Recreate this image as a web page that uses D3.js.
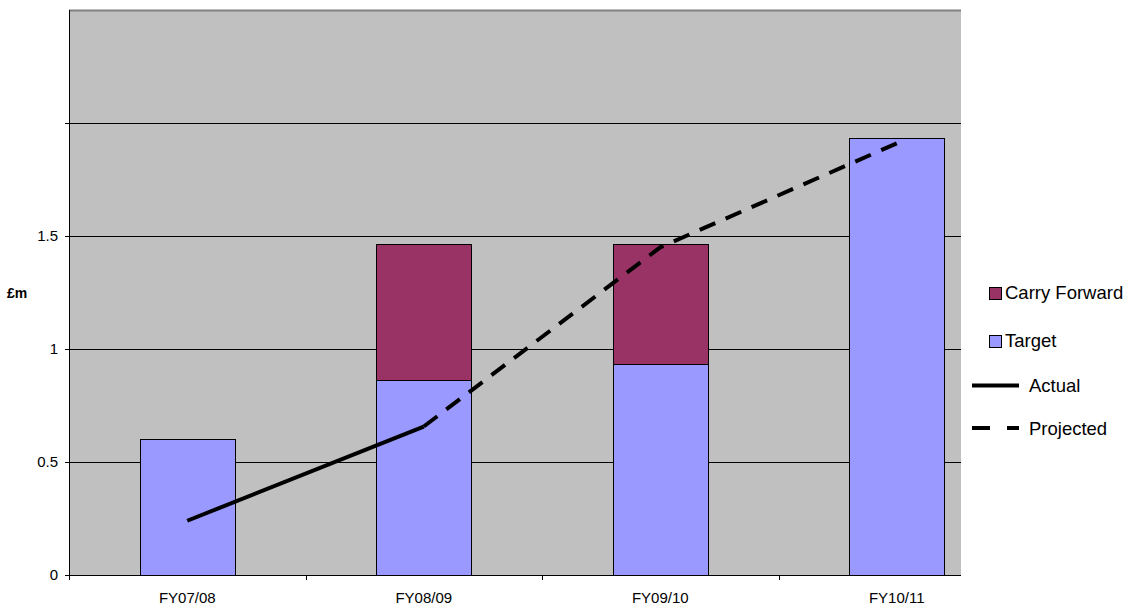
<!DOCTYPE html>
<html>
<head>
<meta charset="utf-8">
<script src="https://cdn.jsdelivr.net/npm/d3@7"></script>
<style>
  body { margin: 0; background: #fff; }
  svg text { font-family: "Liberation Sans", Arial, sans-serif; }
</style>
</head>
<body>
<div id="chart"></div>
<script>
// chart data
var categories = ["FY07/08", "FY08/09", "FY09/10", "FY10/11"];
var target = [0.6, 0.865, 0.935, 1.935];
var carryForward = [0, 0.6, 0.53, 0];
var actual = [0.24, 0.657, null, null];
var projected = [null, 0.657, 1.45, 1.91];
var yTicks = [0, 0.5, 1, 1.5, 2];
var yTickLabels = ["0", "0.5", "1", "1.5", "", ""];

var width = 1128, height = 605;
var plotLeft = 69, plotRight = 961, plotTop = 10, plotBottom = 575;

var svg = d3.select("#chart").append("svg")
    .attr("width", width)
    .attr("height", height);

// band range runs past the plot edge, as in the original
var x = d3.scaleBand().domain(categories)
    .range([plotLeft, 1015])
    .paddingInner(0.6)
    .paddingOuter(0.3);
var step = x.step();

var y = d3.scaleLinear().domain([0, 2.5]).range([plotBottom, plotTop]);

// plot background
svg.append("rect")
    .attr("x", plotLeft).attr("y", plotTop)
    .attr("width", plotRight - plotLeft).attr("height", plotBottom - plotTop)
    .attr("fill", "#c0c0c0");

svg.append("line")
    .attr("x1", plotLeft).attr("x2", plotRight)
    .attr("y1", plotTop + 0.5).attr("y2", plotTop + 0.5)
    .attr("stroke", "#808080").attr("stroke-width", 2);

// gridlines
svg.append("g").selectAll("line")
    .data(yTicks.filter(function(d) { return d > 0; }))
    .enter().append("line")
    .attr("x1", plotLeft).attr("x2", plotRight)
    .attr("y1", function(d) { return Math.round(y(d)) + 0.5; })
    .attr("y2", function(d) { return Math.round(y(d)) + 0.5; })
    .attr("stroke", "#000").attr("stroke-width", 1);

// stacked bars
var stack = categories.map(function(c, i) {
    return {cat: c, t: target[i], cf: carryForward[i]};
});

var bars = svg.append("g");
bars.selectAll(".target").data(stack).enter().append("rect")
    .attr("class", "target")
    .attr("x", function(d) { return Math.round(x(d.cat)) + 0.5; })
    .attr("width", Math.round(x.bandwidth()))
    .attr("y", function(d) { return Math.round(y(d.t)) + 0.5; })
    .attr("height", function(d) { return Math.round(y(0)) - Math.round(y(d.t)); })
    .attr("fill", "#9999ff").attr("stroke", "#000").attr("stroke-width", 1);

bars.selectAll(".cf").data(stack.filter(function(d) { return d.cf > 0; })).enter().append("rect")
    .attr("class", "cf")
    .attr("x", function(d) { return Math.round(x(d.cat)) + 0.5; })
    .attr("width", Math.round(x.bandwidth()))
    .attr("y", function(d) { return Math.round(y(d.t + d.cf)) + 0.5; })
    .attr("height", function(d) { return Math.round(y(d.t)) - Math.round(y(d.t + d.cf)); })
    .attr("fill", "#993366").attr("stroke", "#000").attr("stroke-width", 1);

// lines
var cx = function(i) { return x(categories[i]) + x.bandwidth() / 2; };
var line = d3.line()
    .defined(function(d) { return d != null; })
    .x(function(d, i) { return cx(i); })
    .y(function(d) { return y(d); });

svg.append("path").datum(actual)
    .attr("d", line)
    .attr("fill", "none").attr("stroke", "#000").attr("stroke-width", 4);

var proj = svg.append("path").datum(projected)
    .attr("d", line)
    .attr("fill", "none").attr("stroke", "#000").attr("stroke-width", 4);

// stretch the gaps a bit so the dashes finish on the last point
var L = proj.node().getTotalLength();
var nDash = Math.round((L + 11) / 28);
var gap = (L - 17 * nDash) / (nDash - 1);
proj.attr("stroke-dasharray", "17," + gap.toFixed(2));

// y axis
svg.append("line")
    .attr("x1", plotLeft + 0.5).attr("x2", plotLeft + 0.5)
    .attr("y1", plotTop).attr("y2", plotBottom)
    .attr("stroke", "#000");

var yt = svg.append("g");
yt.selectAll("line").data(yTicks).enter().append("line")
    .attr("x1", plotLeft - 4).attr("x2", plotLeft)
    .attr("y1", function(d) { return Math.round(y(d)) + 0.5; })
    .attr("y2", function(d) { return Math.round(y(d)) + 0.5; })
    .attr("stroke", "#000");
yt.selectAll("text").data(yTicks).enter().append("text")
    .attr("x", plotLeft - 11)
    .attr("y", function(d) { return y(d) + 5; })
    .attr("text-anchor", "end")
    .attr("font-size", 15)
    .text(function(d, i) { return yTickLabels[i]; });

svg.append("text")
    .attr("x", 7).attr("y", 298)
    .attr("font-size", 14).attr("font-weight", "bold")
    .text("£m");

// x axis
svg.append("line")
    .attr("x1", plotLeft).attr("x2", plotRight)
    .attr("y1", plotBottom + 0.5).attr("y2", plotBottom + 0.5)
    .attr("stroke", "#000");

var xt = svg.append("g");
xt.selectAll("line").data(d3.range(categories.length)).enter().append("line")
    .attr("x1", function(i) { return Math.round(plotLeft + i * step) + 0.5; })
    .attr("x2", function(i) { return Math.round(plotLeft + i * step) + 0.5; })
    .attr("y1", plotBottom).attr("y2", plotBottom + 5)
    .attr("stroke", "#000");
xt.selectAll("text").data(categories).enter().append("text")
    .attr("x", function(d) { return x(d) + x.bandwidth() / 2; })
    .attr("y", 603)
    .attr("text-anchor", "middle")
    .attr("font-size", 15)
    .text(function(d) { return d; });

// legend
var legend = svg.append("g");
var boxes = [{name: "Carry Forward", color: "#993366", y: 287},
             {name: "Target", color: "#9999ff", y: 335}];
legend.selectAll("rect").data(boxes).enter().append("rect")
    .attr("x", 989.5).attr("y", function(d) { return d.y + 0.5; })
    .attr("width", 12).attr("height", 12)
    .attr("fill", function(d) { return d.color; })
    .attr("stroke", "#000");
legend.selectAll(".boxlabel").data(boxes).enter().append("text")
    .attr("class", "boxlabel")
    .attr("x", 1005).attr("y", function(d) { return d.y + 12; })
    .attr("font-size", 18.5)
    .text(function(d) { return d.name; });

var lines = [{name: "Actual", dash: null, y: 385.5},
             {name: "Projected", dash: "18,17", y: 428}];
legend.selectAll("line").data(lines).enter().append("line")
    .attr("x1", 972).attr("x2", 1019)
    .attr("y1", function(d) { return d.y; })
    .attr("y2", function(d) { return d.y; })
    .attr("stroke", "#000").attr("stroke-width", 4)
    .attr("stroke-dasharray", function(d) { return d.dash; });
legend.selectAll(".linelabel").data(lines).enter().append("text")
    .attr("class", "linelabel")
    .attr("x", 1029).attr("y", function(d) { return d.y + 6.5; })
    .attr("font-size", 18.5)
    .text(function(d) { return d.name; });
</script>
</body>
</html>
